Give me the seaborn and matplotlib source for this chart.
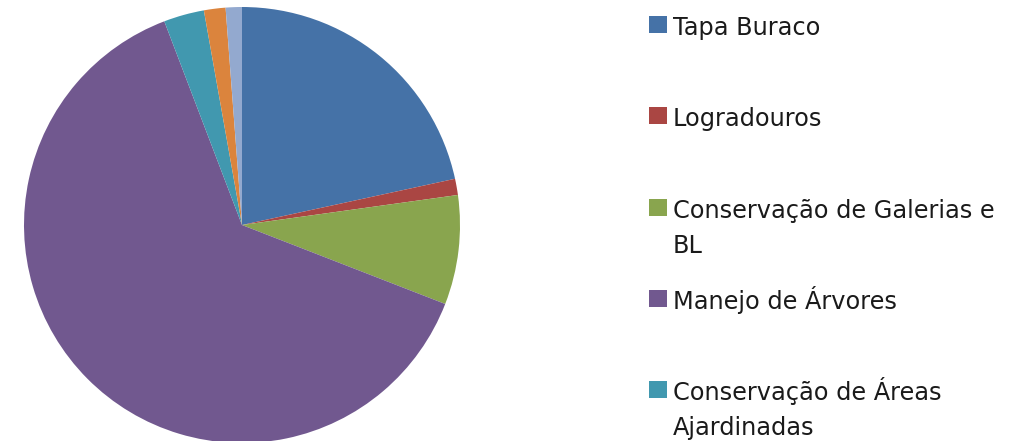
import matplotlib
matplotlib.use('Agg')
import matplotlib.pyplot as plt
import matplotlib.patches as mpatches
import seaborn as sns

# Data (percent shares)
categories = ['Tapa Buraco', 'Logradouros', 'Conservação de Galerias e BL',
              'Manejo de Árvores', 'Conservação de Áreas Ajardinadas',
              'Outros 1', 'Outros 2']
shares = [21.6, 1.2, 8.1, 63.3, 3.0, 1.6, 1.2]
legend_lines = [['Tapa Buraco'],
                ['Logradouros'],
                ['Conservação de Galerias e', 'BL'],
                ['Manejo de Árvores'],
                ['Conservação de Áreas', 'Ajardinadas']]

colors = ['#4572A7', '#AA4643', '#89A54E', '#71588F', '#4198AF', '#DB843D', '#93A9CF']

sns.set_style('white')
plt.rcParams['font.family'] = ['DejaVu Sans']

W, H = 1022, 441
fig = plt.figure(figsize=(W / 100, H / 100), dpi=100)

# Pie axes: center (242, 225) px from top-left, radius 218 px
cx, cy, r = 242, 225, 218
ax = fig.add_axes([(cx - r) / W, (H - cy - r) / H, 2 * r / W, 2 * r / H])
ax.pie(shares, colors=colors, startangle=90, counterclock=False,
       radius=1, wedgeprops=dict(linewidth=0))
ax.set_xlim(-1, 1)
ax.set_ylim(-1, 1)
ax.set_aspect('equal')
ax.axis('off')

# Legend drawn by hand so the marker sits on the first text line
base0 = 35
slot = 91.3
line_gap = 35
for i, lines in enumerate(legend_lines):
    base = base0 + slot * i
    fig.patches.append(mpatches.Rectangle(
        (649 / W, (H - base + 2) / H), 18 / W, 17 / H,
        transform=fig.transFigure, facecolor=colors[i], edgecolor='none'))
    for j, txt in enumerate(lines):
        fig.text(673 / W, (H - base - j * line_gap) / H, txt,
                 fontsize=17.3, color='#1a1a1a', va='baseline', ha='left')

fig.savefig('out.png', dpi=100)
